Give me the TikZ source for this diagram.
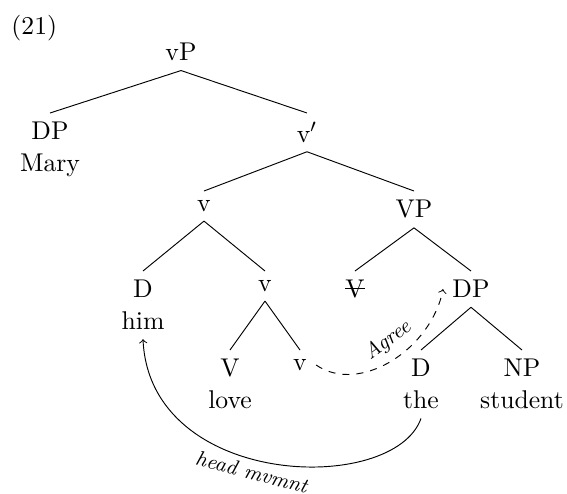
\documentclass[tikz,border=0pt,11pt]{standalone}
\newcommand{\crossout}[1]{\setbox0\hbox{#1}\rlap{\copy0}\rule[0.85ex]{\wd0}{0.4pt}}
\begin{document}
\begin{tikzpicture}[x=0.015cm, y=-0.015cm]
    \tikzset{%
      cat/.style={anchor=north, inner sep=3.8pt, align=center},
      lab/.style={font=\footnotesize\itshape, sloped},
    }
    \useasboundingbox (0,0) rectangle (567,494);
    \node[anchor=north west, inner sep=0pt] (ex) at (11,15) {(21)};

    \node[cat] (vP) at (181,34) {vP};
    \node[cat] (DPs) at (50,113) {DP\\Mary};
    \node[cat] (vbar) at (307,113) {v$'$};
    \draw (vP.south) -- (DPs.north);
    \draw (vP.south) -- (vbar.north);

    \node[cat] (vA) at (204,191) {v};
    \node[cat] (VP) at (414,191) {VP};
    \draw (vbar.south) -- (vA.north);
    \draw (vbar.south) -- (VP.north);

    \node[cat] (Dhim) at (143,271) {D\\him};
    \node[cat] (vB) at (265,271) {v};
    \draw (vA.south) -- (Dhim.north);
    \draw (vA.south) -- (vB.north);

    \node[cat] (Vt) at (355,271) {\crossout{V}};
    \node[cat] (DPo) at (471,271) {DP};
    \draw (VP.south) -- (Vt.north);
    \draw (VP.south) -- (DPo.north);

    \node[cat] (Vlove) at (230,350) {V\\love};
    \node[cat] (vC) at (300,350) {v};
    \draw (vB.south) -- (Vlove.north);
    \draw (vB.south) -- (vC.north);

    \node[cat] (Dthe) at (421,350) {D\\the};
    \node[cat] (NP) at (522,350) {NP\\student};
    \draw (DPo.south) -- (Dthe.north);
    \draw (DPo.south) -- (NP.north);

    % agreement and movement
    \draw [dashed, ->] (vC.east) .. controls +(44,30) and +(-12,60) .. (DPo.west)
      node[lab, above, pos=0.55] {Agree};
    \draw [->] (Dthe.south) .. controls +(-27,77) and +(7,150) .. (Dhim.south)
      node[lab, below, pos=0.55, inner sep=2pt] {head mvmnt};
\end{tikzpicture}
\end{document}
